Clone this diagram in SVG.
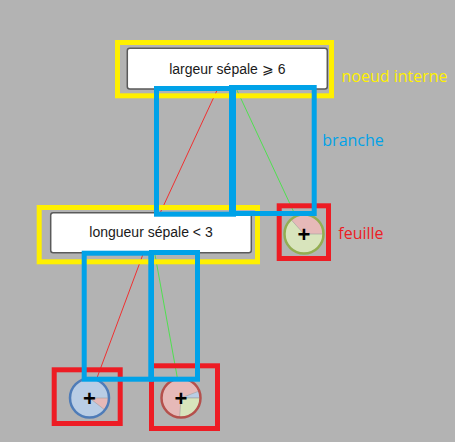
<svg xmlns="http://www.w3.org/2000/svg" width="455" height="442" viewBox="0 0 455 442">
<style>
.node rect.box{fill:#ffffff;stroke:#5a5a5a;stroke-width:1.5}
.node text{font-family:"Liberation Sans",Arial,sans-serif;font-size:14px;fill:#1a1a1a;text-anchor:middle}
.edge{stroke-width:1;fill:none}
.red{stroke:#f03030}
.green{stroke:#50e050}
.slice{stroke:#a0a0a0;stroke-width:0.6}
.ring{fill:none;stroke-width:2.5}
.plus{font-family:"Liberation Sans",Arial,sans-serif;font-weight:bold;font-size:22px;fill:#000;text-anchor:middle}
.ann{fill:none;stroke-width:5}
.yel{stroke:#fff000}
.redann{stroke:#ed1c24}
.blue{stroke:#00a2e8}
.lbl{font-family:"Open Sans","Noto Sans",sans-serif;font-size:16px}
</style>
<rect x="0" y="0" width="455" height="442" fill="#b3b3b3"/>
<g id="connectors">
<line class="edge red" x1="227" y1="68.7" x2="151" y2="232.7"/>
<line class="edge green" x1="227" y1="68.7" x2="304" y2="234"/>
<line class="edge red" x1="151" y1="232.7" x2="89.5" y2="398"/>
<line class="edge green" x1="151" y1="232.7" x2="181" y2="398"/>
</g>
<g id="node-root" class="node">
<rect class="box" x="127.3" y="48.3" width="200" height="40.7" rx="2.5"/>
<text x="227.3" y="74.3">largeur sépale ⩾ 6</text>
</g>
<g id="node-left" class="node">
<rect class="box" x="50.7" y="212.7" width="200.6" height="40" rx="2.5"/>
<text x="151" y="237.3">longueur sépale &lt; 3</text>
</g>
<g id="leaf-right">
<circle cx="304" cy="234" r="19.5" fill="#d8e4bc"/>
<path class="slice" d="M304,234 L290.95,219.51 A19.5,19.5 0 0 1 323.5,234 Z" fill="#e6b9b8"/>
<circle class="ring" cx="304" cy="234" r="19.5" stroke="#93ad52"/>
<text class="plus" x="304" y="241.5">+</text>
</g>
<g id="leaf-bl">
<circle cx="89.5" cy="398" r="19.5" fill="#b9cde5"/>
<path class="slice" d="M89.5,398 L109,398 A19.5,19.5 0 0 1 104.87,410.01 Z" fill="#e6b9b8"/>
<circle class="ring" cx="89.5" cy="398" r="19.5" stroke="#4f7cb8"/>
<text class="plus" x="89.5" y="405.5">+</text>
</g>
<g id="leaf-br">
<circle cx="181" cy="398" r="19.5" fill="#e6b9b8"/>
<path class="slice" d="M181,398 L199.21,391.01 A19.5,19.5 0 0 1 200.5,398 Z" fill="#b9cde5"/>
<path class="slice" d="M181,398 L200.5,398 A19.5,19.5 0 0 1 179.64,417.45 Z" fill="#d8e4bc"/>
<circle class="ring" cx="181" cy="398" r="19.5" stroke="#b5504c"/>
<text class="plus" x="181" y="405.5">+</text>
</g>
<g id="annotations">
<rect class="ann yel" x="117.5" y="42.5" width="214" height="53.3"/>
<rect class="ann yel" x="39.2" y="207.5" width="218.3" height="54.3"/>
<rect class="ann redann" x="279.2" y="205.8" width="49.3" height="52.7"/>
<rect class="ann redann" x="54.2" y="369.8" width="66" height="53.7"/>
<rect class="ann redann" x="151.5" y="365.8" width="66" height="62.7"/>
<rect class="ann blue" x="156.5" y="88.5" width="77" height="125.7"/>
<rect class="ann blue" x="231.5" y="87.5" width="82.7" height="126"/>
<rect class="ann blue" x="84.2" y="253.2" width="66.6" height="126"/>
<rect class="ann blue" x="151.5" y="252.5" width="46" height="126.7"/>
<text class="lbl" x="341.5" y="81.5" fill="#fff000">noeud interne</text>
<text class="lbl" x="322.3" y="146.3" fill="#00a2e8">branche</text>
<text class="lbl" x="338.3" y="239" fill="#ed1c24">feuille</text>
</g>
</svg>
